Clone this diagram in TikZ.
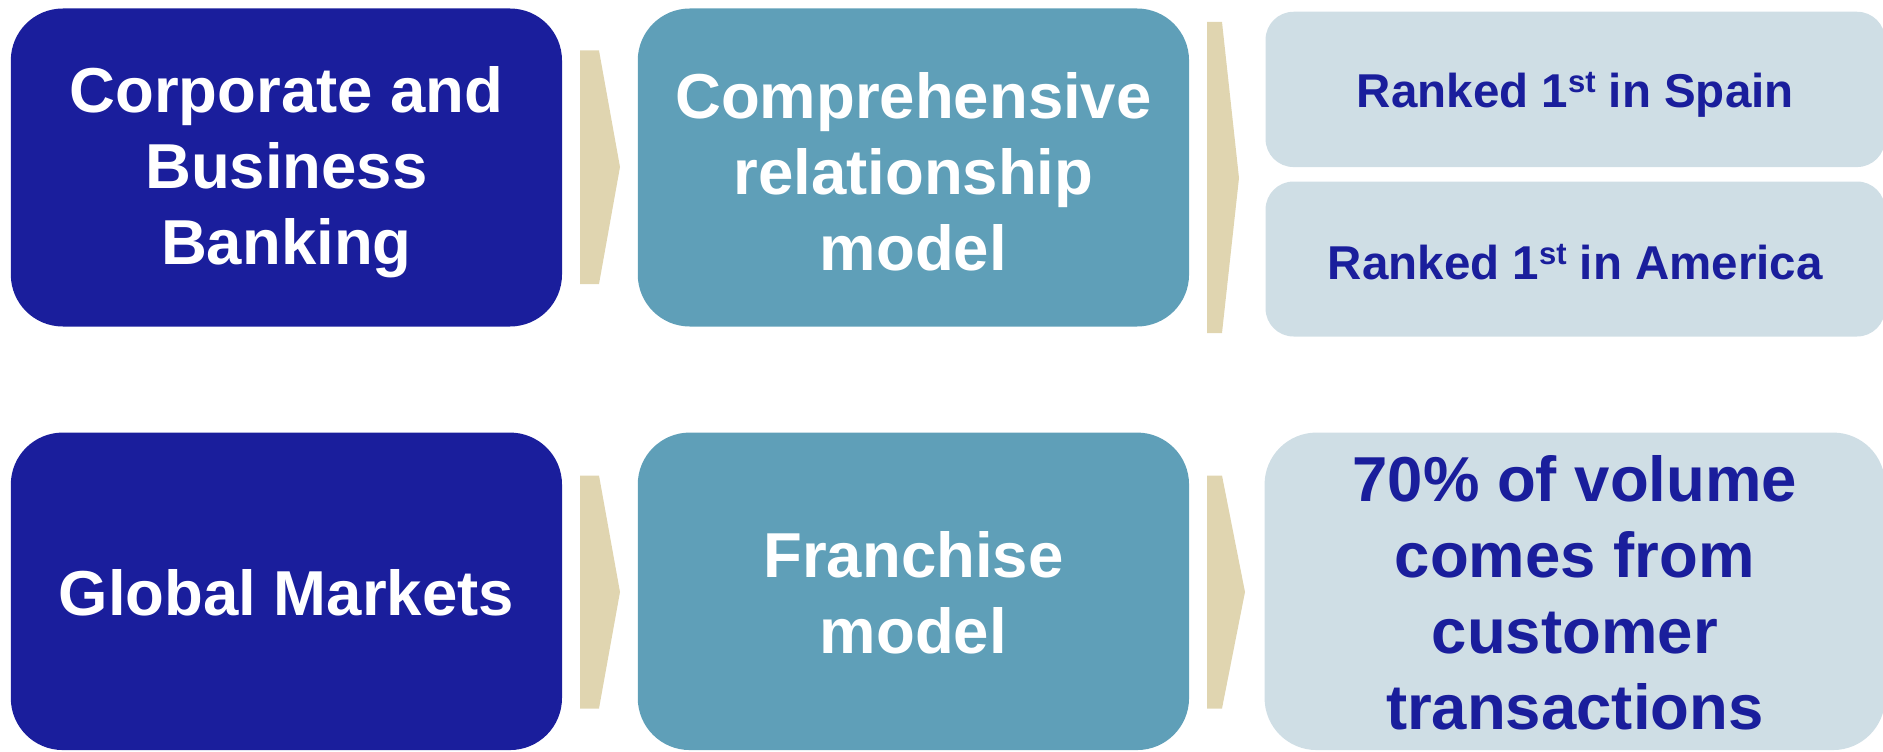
\documentclass[tikz,border=0pt]{standalone}
\usepackage{fontspec}
\setmainfont{Liberation Sans}
\definecolor{navy}{RGB}{26,30,156}
\definecolor{steel}{RGB}{95,159,184}
\definecolor{mist}{RGB}{207,222,229}
\definecolor{sand}{RGB}{224,213,176}
\newcommand\ordsup[1]{\raisebox{0.3em}{\fontsize{31}{31}\selectfont #1}}
\tikzset{
  panel/.style={rounded corners=52pt, inner sep=0pt, outer sep=0pt},
  unitbox/.style={panel, fill=navy},
  modelbox/.style={panel, fill=steel},
  factbox/.style={panel, fill=mist},
  smallfact/.style={factbox, rounded corners=28pt},
  bigtext/.style={inner sep=0pt, align=center, font=\bfseries\fontsize{63.5}{76}\selectfont},
  smalltext/.style={inner sep=0pt, align=center, font=\bfseries\fontsize{47.5}{55}\selectfont},
  whitetext/.style={bigtext, text=white},
  navytext/.style={bigtext, text=navy},
  chevron/.style={fill=sand, draw=none}
}
\begin{document}
\begin{tikzpicture}[x=1pt,y=-1pt]
\useasboundingbox (0,0) rectangle (1883,752);

% top row panels
\node[unitbox, minimum width=551.2pt, minimum height=318pt] (cbb) at (286.4,167.5) {};
\node[modelbox, minimum width=551.3pt, minimum height=318pt] (crm) at (913.4,167.5) {};
\node[smallfact, minimum width=619.5pt, minimum height=155.3pt] (spain) at (1575.3,89.4) {};
\node[smallfact, minimum width=619.5pt, minimum height=155pt] (america) at (1575.3,259) {};

% bottom row panels
\node[unitbox, minimum width=551.2pt, minimum height=317.5pt] (gm) at (286.4,591.3) {};
\node[modelbox, minimum width=551.3pt, minimum height=317.5pt] (fm) at (913.4,591.3) {};
\node[factbox, minimum width=620.5pt, minimum height=317.5pt] (vol) at (1574.8,591.3) {};

% panel captions
\node[whitetext] (cbb-t) at ([yshift=-4.5pt]cbb.center) {Corporate and\\Business\\Banking};
\node[whitetext] (crm-t) at ([yshift=-4.5pt]crm.center) {Comprehensive\\relationship\\model};
\node[smalltext, text=navy] (spain-t) at ([yshift=-5.5pt]spain.center) {Ranked 1\ordsup{st} in Spain};
\node[smalltext, text=navy] (america-t) at ([yshift=-3pt]america.center) {Ranked 1\ordsup{st} in America};
\node[whitetext] (gm-t) at ([yshift=-1.5pt]gm.center) {Global Markets};
\node[whitetext] (fm-t) at ([yshift=-1.5pt]fm.center) {Franchise\\model};
\node[navytext] (vol-t) at ([yshift=-1.5pt]vol.center) {70\% of volume\\comes from\\customer\\transactions};

% chevrons between the columns
\fill[chevron] (580,50.5) -- (599,50.5) -- (620,167) -- (599,284) -- (580,284) -- cycle;
\fill[chevron] (1207,22) -- (1222,22) -- (1239,178) -- (1222,333) -- (1207,333) -- cycle;
\fill[chevron] (580,475.5) -- (599,475.5) -- (620,592) -- (599,708.5) -- (580,708.5) -- cycle;
\fill[chevron] (1207,475.5) -- (1222,475.5) -- (1245,592) -- (1222,708.5) -- (1207,708.5) -- cycle;
\end{tikzpicture}
\end{document}
